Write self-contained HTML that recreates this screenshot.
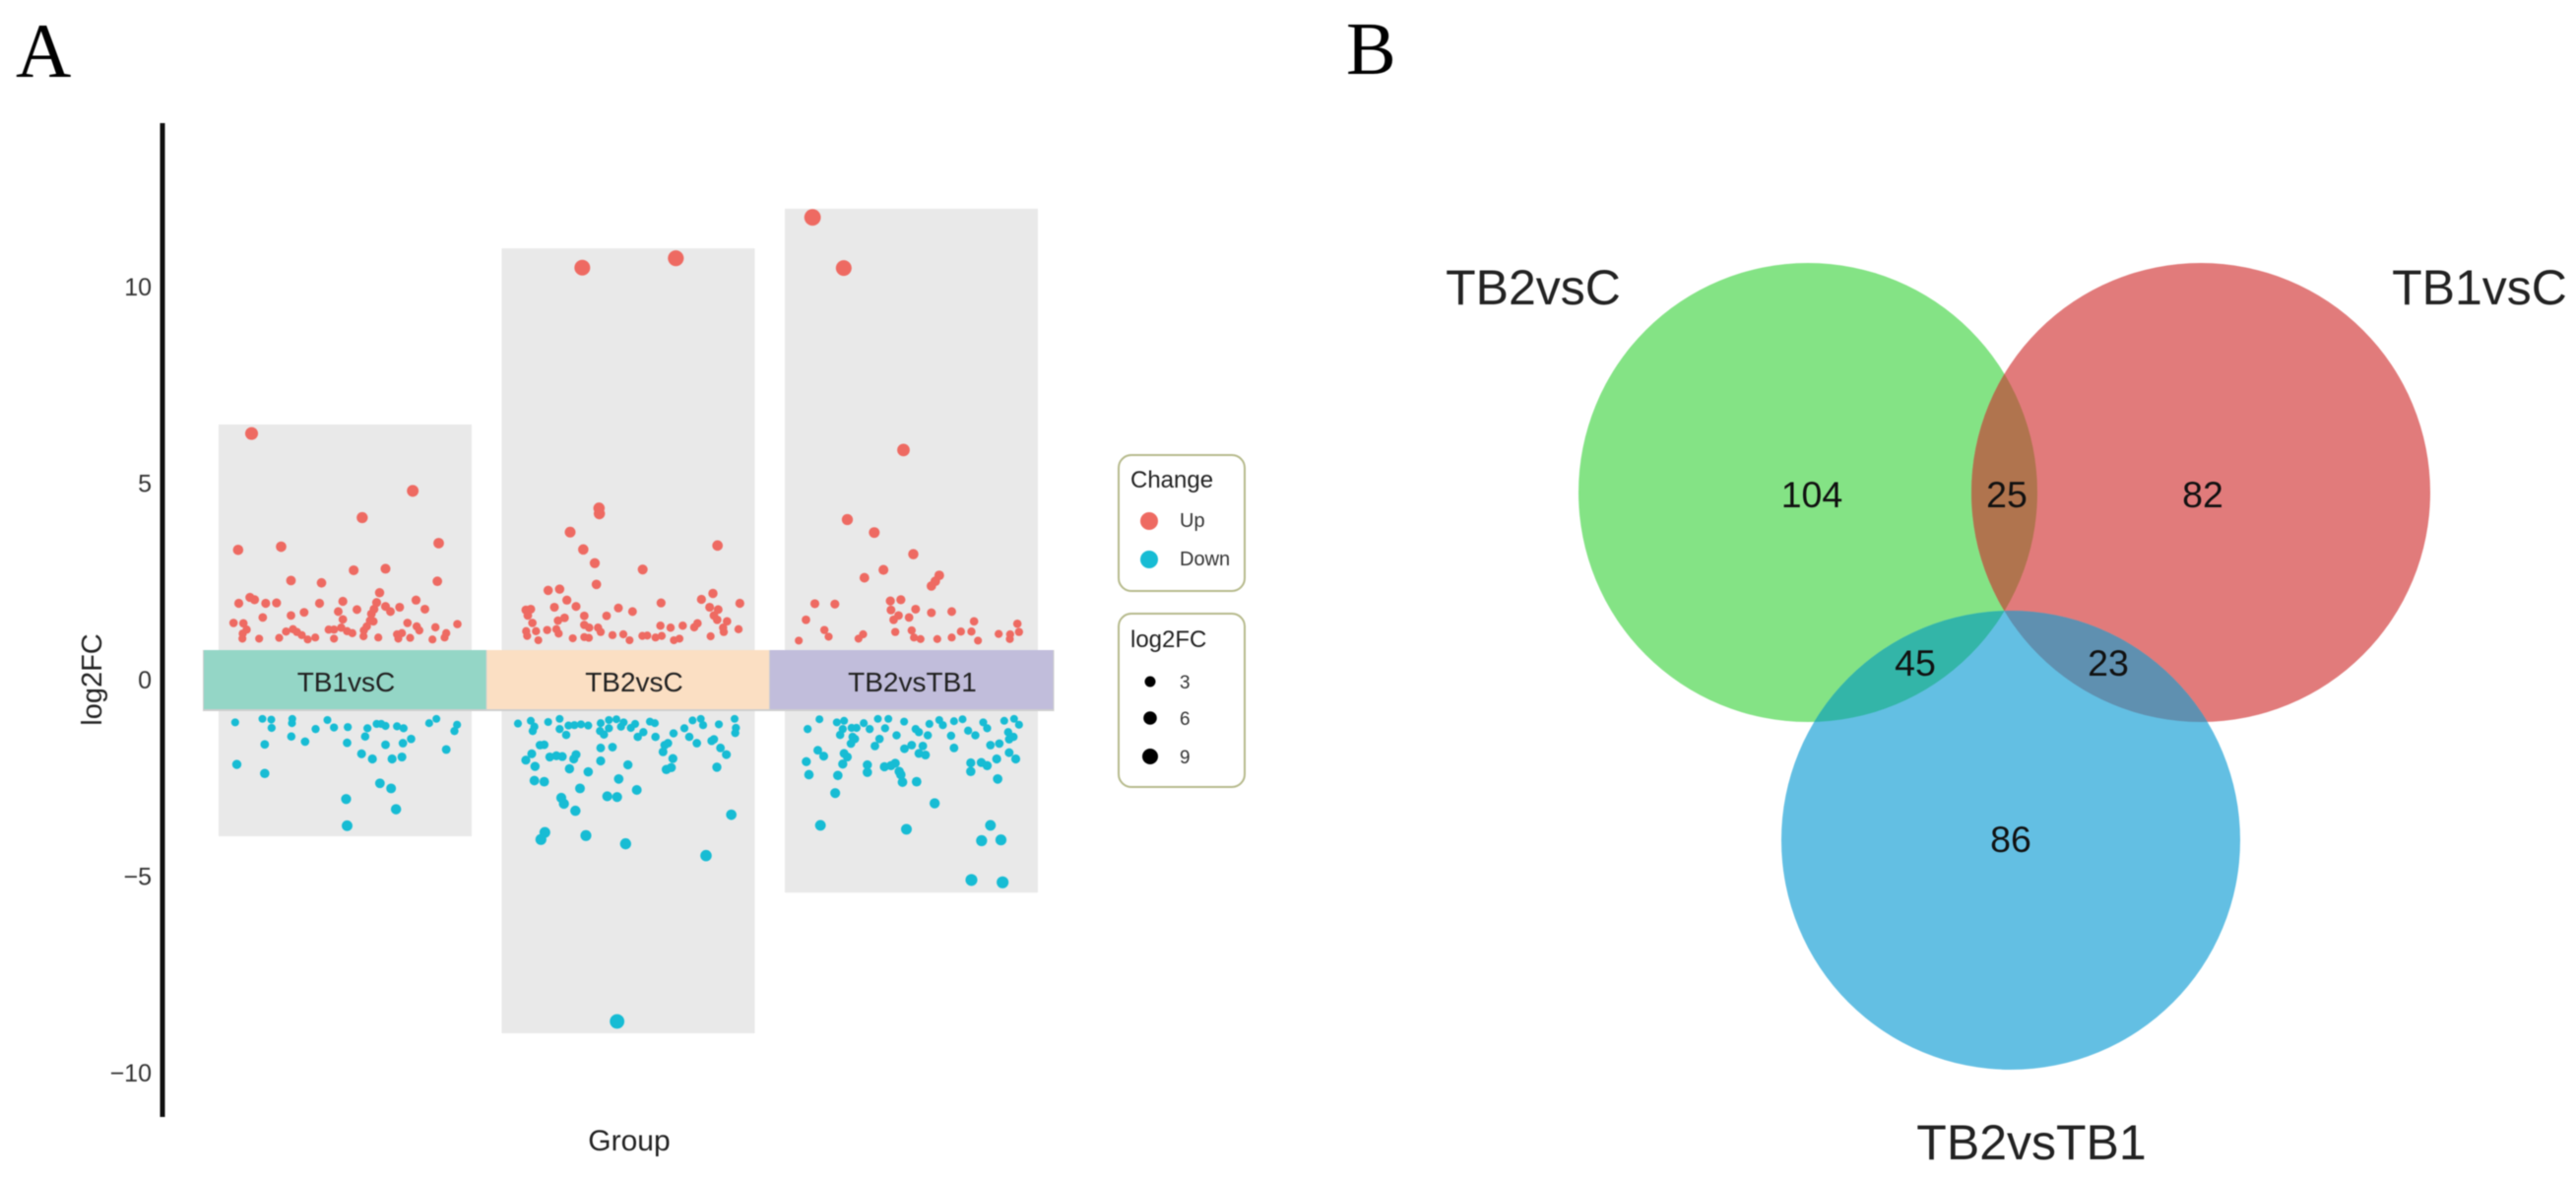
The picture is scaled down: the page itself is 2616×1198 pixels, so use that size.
<!DOCTYPE html>
<html lang="en">
<head>
<meta charset="utf-8">
<title>Differential expression scatter and Venn diagram</title>
<style>
html,body{margin:0;padding:0;background:#fff;}
#figure{display:block;width:2616px;height:1198px;font-family:"Liberation Sans",sans-serif;filter:blur(0.6px);}
</style>
</head>
<body>
<svg id="figure" xmlns="http://www.w3.org/2000/svg" width="2616" height="1198" viewBox="0 0 2616 1198">
  <defs>
    <clipPath id="clip-green"><circle cx="1836" cy="500" r="233"/></clipPath>
    <clipPath id="clip-red"><circle cx="2235" cy="500" r="233"/></clipPath>
  </defs>
  <text x="16" y="78" font-family="Liberation Serif, serif" font-size="78" fill="#000">A</text>
  <text x="1367" y="75" font-family="Liberation Serif, serif" font-size="76" fill="#000">B</text>

  <g id="scatter"></g>

  <g>
    <rect x="1136" y="462" width="128" height="138" rx="13" fill="#fff" stroke="#b6ba8c" stroke-width="2"/>
    <text x="1148" y="495" font-size="24" fill="#222">Change</text>
    <circle cx="1167" cy="529" r="9" fill="#ee6a62"/>
    <text x="1198" y="535" font-size="20" fill="#333">Up</text>
    <circle cx="1167" cy="568" r="9" fill="#17bcd4"/>
    <text x="1198" y="574" font-size="20" fill="#333">Down</text>
  </g>
  <g>
    <rect x="1136" y="623" width="128" height="176" rx="13" fill="#fff" stroke="#b6ba8c" stroke-width="2"/>
    <text x="1148" y="657" font-size="24" fill="#222">log2FC</text>
    <circle cx="1168" cy="692" r="5.5" fill="#000"/>
    <text x="1198" y="699" font-size="19" fill="#333">3</text>
    <circle cx="1168" cy="729" r="6.8" fill="#000"/>
    <text x="1198" y="736" font-size="19" fill="#333">6</text>
    <circle cx="1168" cy="768" r="8" fill="#000"/>
    <text x="1198" y="775" font-size="19" fill="#333">9</text>
  </g>

  <g>
    <circle cx="1836" cy="500" r="233" fill="#84e385"/>
    <circle cx="2235" cy="500" r="233" fill="#e17b7b"/>
    <g clip-path="url(#clip-green)"><circle cx="2235" cy="500" r="233" fill="#b0744e"/></g>
    <circle cx="2042" cy="853" r="233" fill="#63bfe3"/>
    <g clip-path="url(#clip-green)"><circle cx="2042" cy="853" r="233" fill="#33b5a8"/></g>
    <g clip-path="url(#clip-red)"><circle cx="2042" cy="853" r="233" fill="#5f90b0"/></g>
    <g font-size="37.5" fill="#111" text-anchor="middle">
      <text x="1840" y="515">104</text>
      <text x="2038" y="515">25</text>
      <text x="2237" y="515">82</text>
      <text x="1945" y="686">45</text>
      <text x="2141" y="686">23</text>
      <text x="2042" y="865">86</text>
    </g>
    <g font-size="50" fill="#222" text-anchor="middle">
      <text x="1557" y="309">TB2vsC</text>
      <text x="2518" y="309">TB1vsC</text>
      <text x="2063" y="1177">TB2vsTB1</text>
    </g>
  </g>
</svg>

<script>
const categories = ["TB1vsC", "TB2vsC", "TB2vsTB1"];
const yTicks = [10, 5, 0, -5, -10];
const yTitle = "log2FC";
const xTitle = "Group";
const bandTop = [6.53, 11.01, 12.02];
const bandBottom = [-3.95, -8.96, -5.38];

const tb1UpJitter = [-285,206,52,-326,-195,285,26,123,-165,-72,281,105,-324,-290,-276,-242,-209,-78,-7,216,243,96,88,123,138,166,36,-125,-21,-165,-251,-340,-310,-7,80,76,86,66,190,218,226,275,342,308,303,266,198,173,158,162,101,57,56,22,6,-12,-34,-50,-34,-91,-114,-132,-159,-180,-201,-262,-313,-312,-300,-147];
const tb1UpFC = [6.30,4.84,4.16,3.34,3.42,3.51,2.82,2.86,2.56,2.50,2.54,2.25,1.98,2.13,2.07,1.98,1.99,1.98,2.03,2.06,1.83,2.00,1.83,1.90,1.77,1.88,1.82,1.75,1.77,1.67,1.62,1.48,1.47,1.57,1.71,1.54,1.52,1.39,1.48,1.39,1.29,1.37,1.45,1.22,1.11,1.06,1.10,1.22,1.19,1.08,1.11,1.29,1.14,1.22,1.27,1.36,1.31,1.31,1.08,1.11,1.06,1.17,1.32,1.26,1.10,1.08,1.08,1.21,1.31,1.25];
const tb1DownJitter = [-335,-252,-225,-224,-161,-162,-54,-34,8,-90,-164,-122,-245,6,68,61,96,110,123,158,178,256,278,341,333,201,176,123,308,50,83,143,173,-330,-245,106,140,3,155,6];
const tb1DownFC = [-1.05,-0.96,-0.98,-1.19,-0.96,-1.07,-0.99,-1.18,-1.17,-1.22,-1.41,-1.54,-1.61,-1.57,-1.20,-1.41,-1.09,-1.09,-1.14,-1.15,-1.20,-1.07,-0.96,-1.11,-1.27,-1.47,-1.58,-1.62,-1.74,-1.85,-1.98,-1.98,-1.93,-2.12,-2.35,-2.60,-2.73,-3.00,-3.26,-3.68];

const tb2UpJitter = [-140,145,-89,-88,-177,-137,-102,44,272,-97,-244,-209,258,-187,223,100,340,-159,-225,-312,-297,248,274,-30,13,-306,-134,-66,-194,-214,261,271,301,-292,211,201,-134,-119,-92,98,129,166,289,336,-311,-281,-247,-219,-212,-84,291,-308,-48,-15,-169,-134,-120,-274,4,43,58,83,102,251,156,139];
const tb2UpFC = [10.52,10.76,4.40,4.26,3.79,3.35,3.00,2.84,3.45,2.46,2.31,2.34,2.23,2.06,2.08,1.99,1.98,1.90,1.88,1.81,1.83,1.88,1.82,1.86,1.77,1.67,1.66,1.66,1.61,1.54,1.67,1.56,1.52,1.48,1.47,1.37,1.43,1.36,1.36,1.41,1.36,1.41,1.36,1.32,1.27,1.27,1.30,1.32,1.21,1.25,1.25,1.15,1.17,1.19,1.09,1.12,1.10,1.04,1.04,1.15,1.16,1.11,1.15,1.14,1.08,1.04];
const tb2DownJitter = [-336,-297,-286,-291,-244,-209,-209,-189,-182,-164,-144,-122,-84,-59,-36,-14,21,8,-22,-59,-86,-74,46,29,66,81,83,138,171,186,196,221,228,276,324,328,326,209,254,261,121,111,106,-269,-256,-84,-48,-294,-312,-239,-219,-201,-159,-166,-84,281,299,136,-1,-284,-179,-122,131,116,270,-286,-256,-29,-147,26,-64,-34,-204,-196,-161,314,-254,-266,-129,-8,237,-34];
const tb2DownFC = [-1.08,-1.01,-1.16,-1.27,-1.04,-0.96,-1.22,-1.37,-1.13,-1.12,-1.10,-1.13,-1.07,-0.99,-0.97,-1.05,-1.09,-1.19,-1.16,-1.20,-1.27,-1.36,-1.30,-1.42,-1.03,-1.07,-1.42,-1.33,-1.20,-1.42,-1.00,-0.96,-1.12,-1.10,-0.96,-1.19,-1.32,-1.58,-1.52,-1.48,-1.58,-1.63,-1.80,-1.63,-1.62,-1.70,-1.68,-1.85,-2.01,-1.93,-1.90,-1.92,-1.87,-1.98,-2.03,-1.70,-1.87,-1.97,-2.13,-2.17,-2.23,-2.31,-2.20,-2.25,-2.19,-2.53,-2.56,-2.49,-2.73,-2.77,-2.93,-2.95,-2.97,-3.12,-3.30,-3.40,-3.85,-4.03,-3.93,-4.14,-4.44,-8.66];

const tb3UpJitter = [-301,-206,-24,-195,-113,6,-85,-143,85,73,61,-64,-32,-294,-233,-62,13,61,123,-39,-7,-54,-321,191,323,-265,-252,-49,1,-147,-161,8,28,79,123,151,183,203,266,301,328,300,-343];
const tb3UpFC = [11.80,10.51,5.88,4.11,3.78,3.23,2.83,2.63,2.69,2.54,2.42,2.04,2.07,1.97,1.96,1.81,1.83,1.74,1.77,1.67,1.62,1.56,1.56,1.52,1.46,1.30,1.13,1.25,1.29,1.19,1.08,1.11,1.07,1.07,1.11,1.26,1.26,1.03,1.20,1.19,1.25,1.07,1.03];
const tb3DownJitter = [-280,-316,-227,-205,-209,-217,-167,-182,-145,-127,-102,-70,-80,-22,-45,13,23,50,55,85,96,130,156,121,173,195,219,231,283,313,328,295,311,298,-179,-172,-184,-97,-111,268,241,-21,1,35,130,-285,-267,-205,-195,-209,-320,23,43,298,318,260,-134,-82,-62,-49,181,213,231,-312,-224,-134,-37,-32,181,-27,16,263,-232,71,-277,-15,241,214,273,183,278];
const tb3DownFC = [-0.97,-1.22,-1.05,-1.01,-1.22,-1.37,-1.19,-1.19,-1.07,-1.22,-0.96,-0.96,-1.20,-1.03,-1.38,-1.22,-1.30,-1.38,-1.09,-0.99,-1.12,-1.02,-0.97,-1.39,-1.26,-1.38,-1.05,-1.20,-1.01,-0.96,-1.11,-1.30,-1.42,-1.48,-1.42,-1.47,-1.59,-1.47,-1.65,-1.59,-1.63,-1.72,-1.63,-1.65,-1.70,-1.76,-1.91,-1.84,-1.93,-2.11,-2.05,-1.84,-1.88,-1.82,-1.98,-1.98,-2.13,-2.18,-2.15,-2.09,-2.08,-2.07,-2.15,-2.38,-2.40,-2.32,-2.30,-2.38,-2.30,-2.57,-2.56,-2.49,-2.85,-3.11,-3.67,-3.77,-3.67,-4.06,-4.04,-5.06,-5.12];

const NS = "http://www.w3.org/2000/svg";
const root = document.getElementById("scatter");
const groupCenterPx = 350.5;
const groupStepPx = 287.5;
const jitterUnitsPerGroup = 862.5;
const stripColors = ["#94d6c6", "#fbdfc3", "#c1bddb"];
const UP_COLOR = "#ee6a62";
const DOWN_COLOR = "#17bcd4";

function xScale(group, jitter) {
  return groupCenterPx + group * groupStepPx + (jitter / jitterUnitsPerGroup) * groupStepPx;
}
function yScale(value) {
  return 691.5 - value * 39.9;
}
function sizeScale(value) {
  return Math.sqrt(11 + 5.05 * Math.abs(value));
}
function make(tag, attrs, parent) {
  const el = document.createElementNS(NS, tag);
  for (const key in attrs) el.setAttribute(key, attrs[key]);
  parent.appendChild(el);
  return el;
}

const axisLine = make("rect", {x: 162.5, y: 125, width: 5, height: 1009, fill: "#111"}, root);



yTicks.forEach(function (tick) {
  const label = make("text", {x: 154, y: yScale(tick) + 7.5, "text-anchor": "end", "font-size": 25, fill: "#333"}, root);
  label.textContent = String(tick).replace("-", "\u2212");
  
  
});

const yTitleEl = make("text", {transform: "translate(103,690) rotate(-90)", "text-anchor": "middle", "font-size": 29, fill: "#222"}, root);
yTitleEl.textContent = yTitle;



const xTitleEl = make("text", {x: 639, y: 1168, "text-anchor": "middle", "font-size": 30, fill: "#222"}, root);
xTitleEl.textContent = xTitle;



categories.forEach(function (name, i) {
  const top = yScale(bandTop[i]);
  const band = make("rect", {x: xScale(i, 0) - 128.5, y: top, width: 257, height: yScale(bandBottom[i]) - top, fill: "#e9e9e9"}, root);
  
  
});

const seriesList = [
  {group: 0, color: UP_COLOR, jitter: tb1UpJitter, fc: tb1UpFC},
  {group: 0, color: DOWN_COLOR, jitter: tb1DownJitter, fc: tb1DownFC},
  {group: 1, color: UP_COLOR, jitter: tb2UpJitter, fc: tb2UpFC},
  {group: 1, color: DOWN_COLOR, jitter: tb2DownJitter, fc: tb2DownFC},
  {group: 2, color: UP_COLOR, jitter: tb3UpJitter, fc: tb3UpFC},
  {group: 2, color: DOWN_COLOR, jitter: tb3DownJitter, fc: tb3DownFC}
];
seriesList.forEach(function (series) {
  const n = Math.min(series.jitter.length, series.fc.length);
  for (let k = 0; k < n; k++) {
    const dot = make("circle", {
      cx: xScale(series.group, series.jitter[k]),
      cy: yScale(series.fc[k]),
      r: sizeScale(series.fc[k]),
      fill: series.color
    }, root);
    
    
  }
});

categories.forEach(function (name, i) {
  const left = 207 + i * 287.5;
  const shadow = make("rect", {x: left - 1, y: 660, width: 289.5, height: 62, fill: "#cfcfcf"}, root);
  
  
  const strip = make("rect", {x: left, y: 660, width: 287.5, height: 60, fill: stripColors[i]}, root);
  
  
  const label = make("text", {x: xScale(i, 0) + (i === 0 ? 1 : i === 1 ? 6 : 1), y: 702, "text-anchor": "middle", "font-size": 28, fill: "#222"}, root);
  label.textContent = name;
  
  
});
</script>
</body>
</html>
